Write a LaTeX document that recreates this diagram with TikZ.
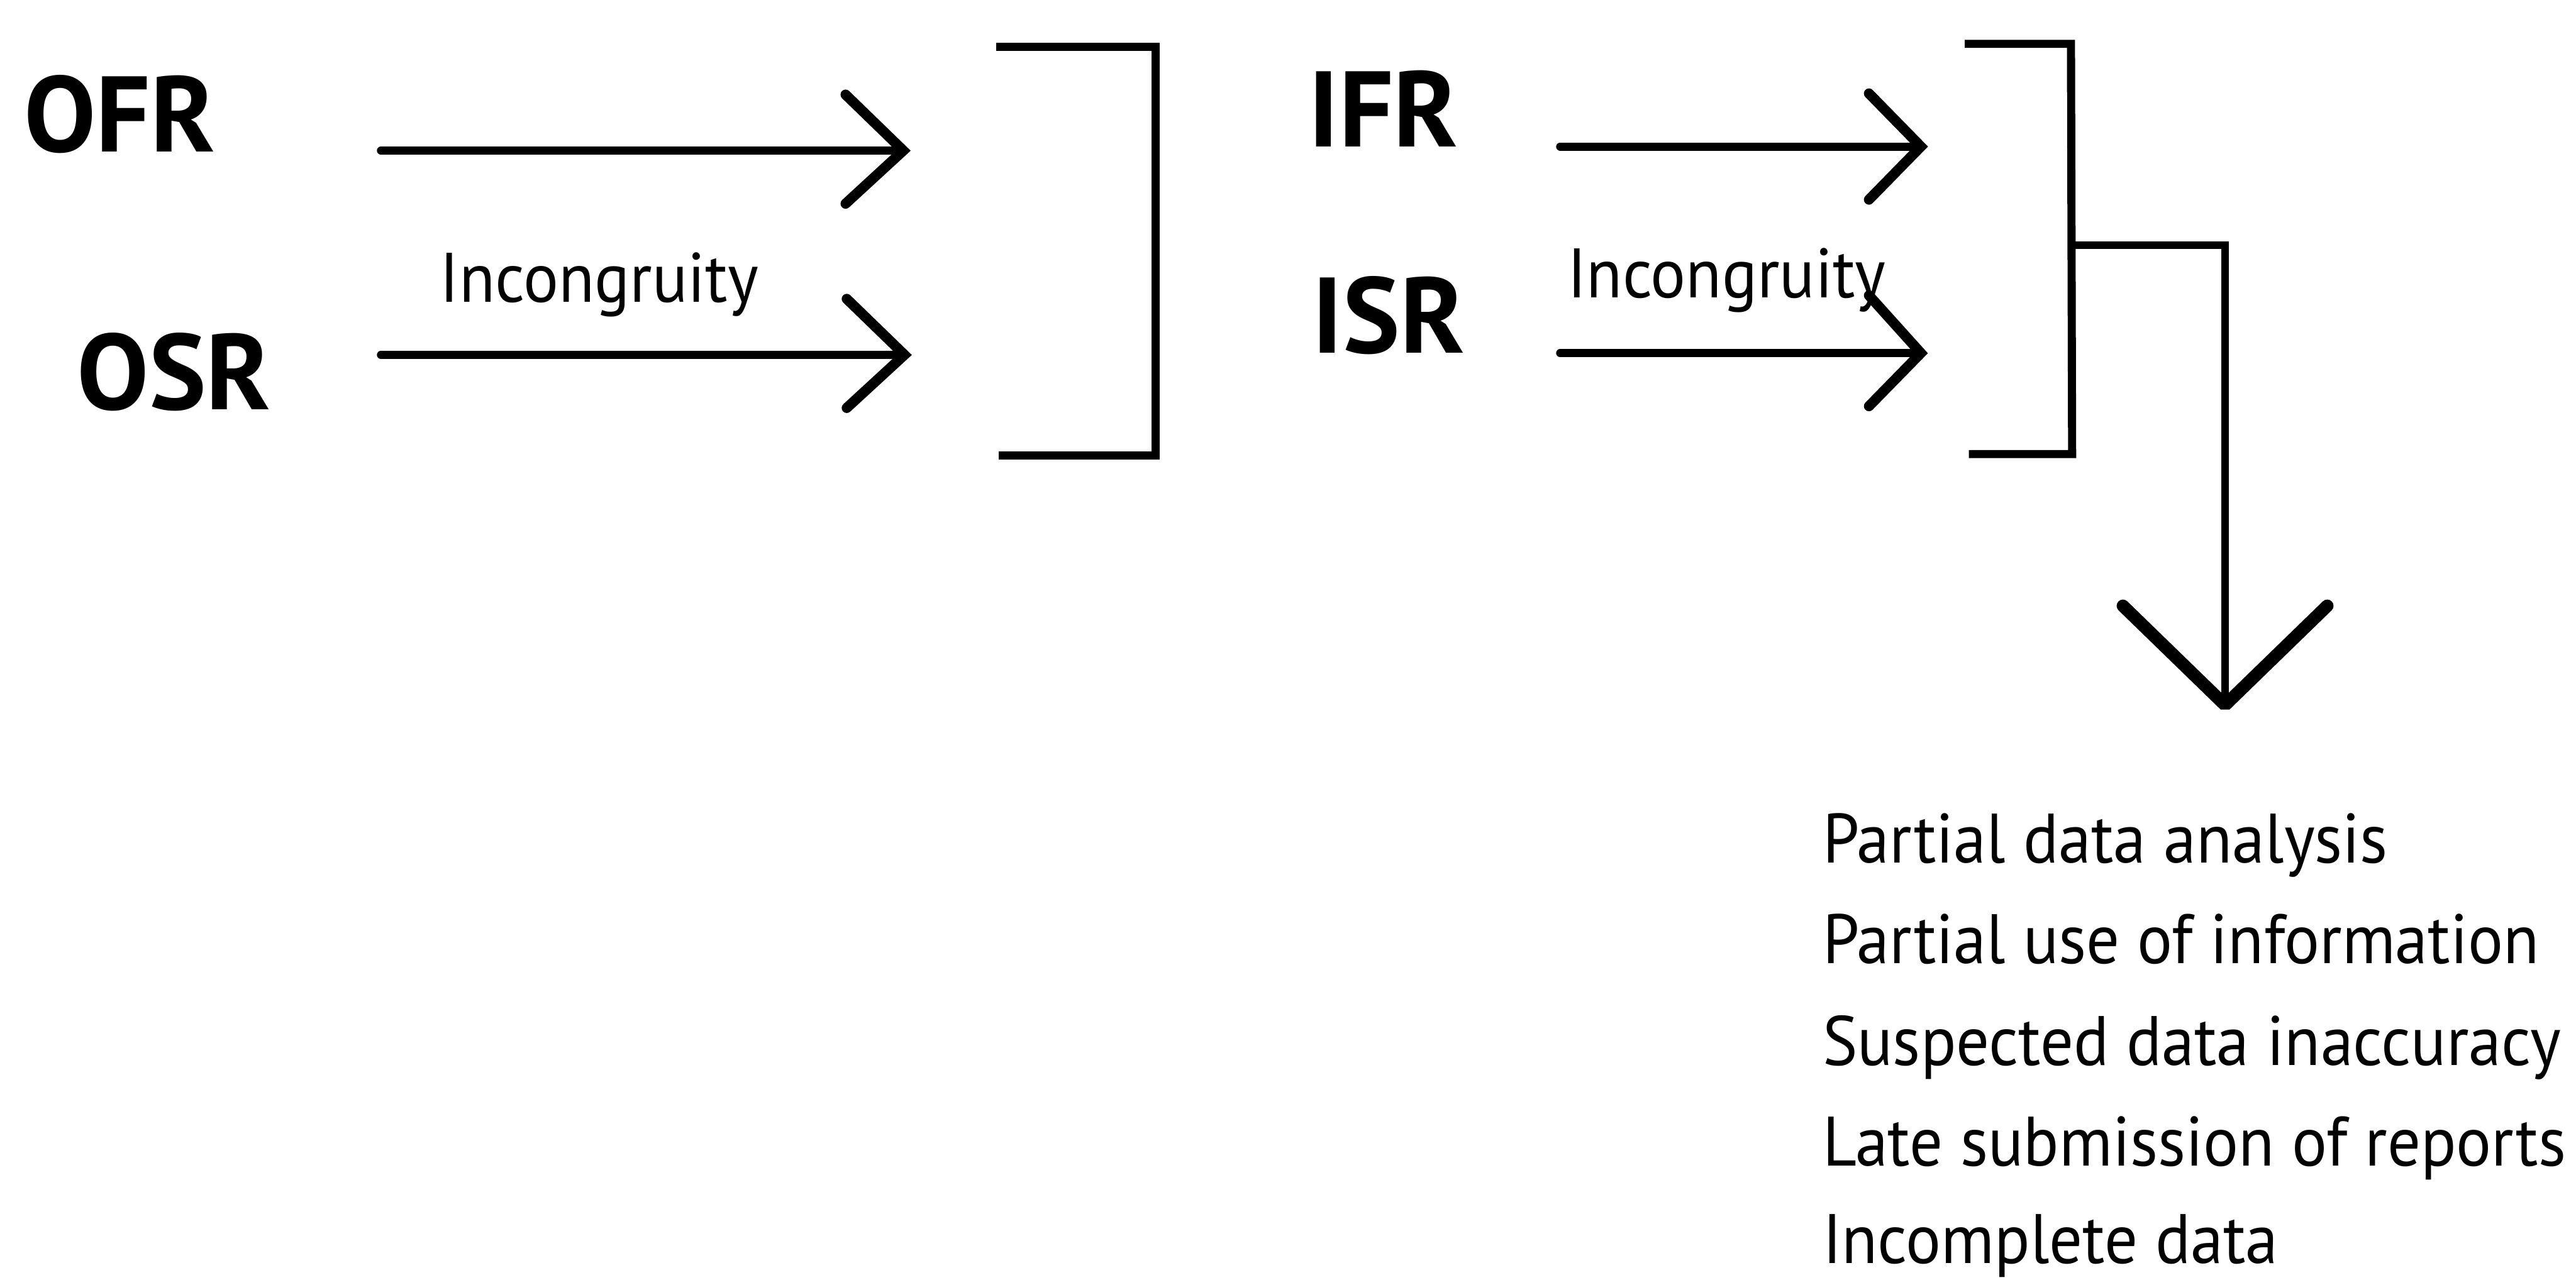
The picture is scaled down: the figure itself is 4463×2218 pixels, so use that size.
\documentclass[tikz,border=0pt]{standalone}
\usepackage{fontspec}
\setmainfont{PT Sans}
\newfontfamily\listfont{PT Sans}[FakeStretch=0.94]
\usetikzlibrary{calc}
\begin{document}
\begin{tikzpicture}[x=0.1mm,y=-0.1mm,
  big/.style={font=\fontsize{53}{60}\selectfont\bfseries, inner sep=0pt, anchor=base west},
  lbl/.style={font=\listfont\fontsize{34.5}{40}\selectfont, inner sep=0pt, anchor=base west},
  shaft/.style={line width=4pt, line cap=round},
  chev/.style={line width=5pt, line cap=round, line join=miter},
  bigchev/.style={line width=6.2pt, line cap=round, line join=bevel},
  brk/.style={line width=4pt, line join=miter},
  branch/.style={line width=3.8pt, line join=miter}]
\useasboundingbox (0,0) rectangle (4463,2218);
% labels
\node[big] (ofr) at (41,263) {OFR};
\node[big] (osr) at (133,710) {OSR};
\node[big] (ifr) at (2266,254) {IFR};
\node[big] (isr) at (2273,612) {ISR};
\node[lbl] (inc1) at (762,524) {Incongruity};
\node[lbl] (inc2) at (2715,516) {Incongruity};
% arrow ends
\coordinate (a1s) at (660,261);  \coordinate (a1e) at (1565,261);
\coordinate (a2s) at (660,615);  \coordinate (a2e) at (1567,615);
\coordinate (a3s) at (2703,254); \coordinate (a3e) at (3328,254);
\coordinate (a4s) at (2703,612); \coordinate (a4e) at (3328,612);
\draw[shaft] (a1s) -- (a1e);
\draw[shaft] (a2s) -- (a2e);
\draw[shaft] (a3s) -- (a3e);
\draw[shaft] (a4s) -- (a4e);
\draw[chev] ($(a1e)+(-100,-97)$) -- (a1e) -- ($(a1e)+(-100,92)$);
\draw[chev] ($(a2e)+(-100,-97)$) -- (a2e) -- ($(a2e)+(-100,92)$);
\draw[chev] ($(a3e)+(-90,-92)$) -- (a3e) -- ($(a3e)+(-90,92)$);
\draw[chev] ($(a4e)+(-90,-100)$) -- (a4e) -- ($(a4e)+(-90,92)$);
% brackets
\coordinate (b1tl) at (1726,81);  \coordinate (b1tr) at (2002,81);
\coordinate (b1br) at (2002,789); \coordinate (b1bl) at (1730,789);
\draw[brk] (b1tl) -- (b1tr) -- (b1br) -- (b1bl);
\coordinate (b2tl) at (3404,76);  \coordinate (b2tr) at (3588,76);
\coordinate (b2br) at (3590,787); \coordinate (b2bl) at (3411,787);
\draw[brk] (b2tl) -- (b2tr) -- (b2br) -- (b2bl);
% branch to effects
\coordinate (bj) at (3589,425);
\coordinate (bc) at (3855,425);
\coordinate (tip) at (3855,1222);
\draw[branch] (bj) -- (bc) -- (tip);
\draw[bigchev] ($(tip)+(-177,-172)$) -- (tip) -- ($(tip)+(177,-172)$);
% effects list
\node[lbl] (e1) at (3157,1495) {Partial data analysis};
\node[lbl] (e2) at (3157,1670) {Partial use of information};
\node[lbl] (e3) at (3157,1846) {Suspected data inaccuracy};
\node[lbl] (e4) at (3157,2021) {Late submission of reports};
\node[lbl] (e5) at (3157,2190) {Incomplete data};
\end{tikzpicture}
\end{document}
